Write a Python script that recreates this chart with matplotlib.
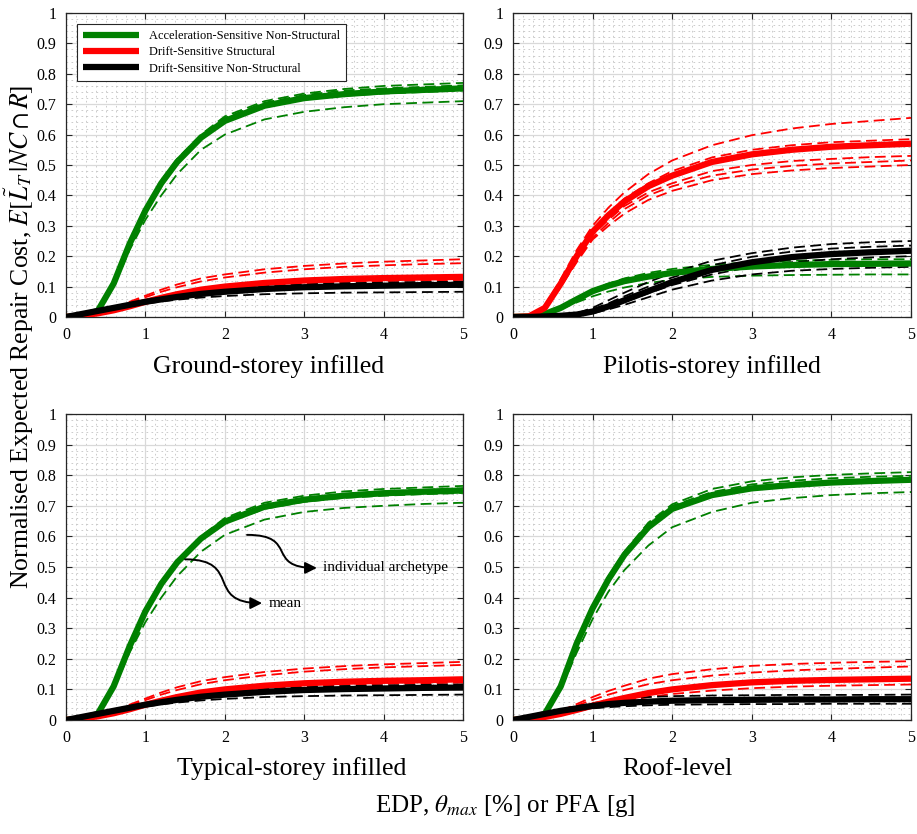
import numpy as np
import matplotlib
matplotlib.use("Agg")
import matplotlib.pyplot as plt
from matplotlib.path import Path
from matplotlib.patches import FancyArrowPatch
from matplotlib.ticker import MultipleLocator

plt.rcParams['font.family'] = ['Liberation Serif', 'DejaVu Serif']
plt.rcParams['mathtext.fontset'] = 'stix'

# EDP grid the curves were read at
x = [0, 0.2, 0.4, 0.6, 0.8, 1.0, 1.2, 1.4, 1.7, 2.0, 2.5, 3.0, 3.5, 4.0, 4.5, 5.0]

xticks = [0, 1, 2, 3, 4, 5]
yticks = [0, 0.1, 0.2, 0.3, 0.4, 0.5, 0.6, 0.7, 0.8, 0.9, 1]
yticklabels = ['0', '0.1', '0.2', '0.3', '0.4', '0.5', '0.6', '0.7', '0.8', '0.9', '1']

titles = ['Ground-storey infilled', 'Pilotis-storey infilled',
          'Typical-storey infilled', 'Roof-level']
labels = ['Acceleration-Sensitive Non-Structural', 'Drift-Sensitive Structural',
          'Drift-Sensitive Non-Structural']

# --- Ground-storey infilled ---
gs_acc_mean = [0, 0.005, 0.02, 0.11, 0.24, 0.35, 0.44, 0.51, 0.59, 0.645, 0.695, 0.72, 0.733, 0.742, 0.747, 0.752]
gs_acc_ind = [
    [0, 0.005, 0.02, 0.10, 0.22, 0.32, 0.40, 0.47, 0.55, 0.60, 0.65, 0.675, 0.69, 0.70, 0.705, 0.71],
    [0, 0.005, 0.02, 0.11, 0.245, 0.355, 0.45, 0.52, 0.60, 0.66, 0.71, 0.735, 0.75, 0.76, 0.765, 0.77],
    [0, 0.005, 0.02, 0.11, 0.24, 0.35, 0.445, 0.515, 0.595, 0.655, 0.705, 0.73, 0.745, 0.752, 0.757, 0.762],
    [0, 0.005, 0.02, 0.11, 0.24, 0.35, 0.44, 0.51, 0.59, 0.645, 0.69, 0.715, 0.728, 0.735, 0.74, 0.745],
]
gs_dss_mean = [0, 0.005, 0.012, 0.022, 0.035, 0.05, 0.063, 0.075, 0.09, 0.1, 0.112, 0.12, 0.125, 0.128, 0.13, 0.132]
gs_dss_ind = [
    [0, 0.005, 0.015, 0.03, 0.05, 0.07, 0.09, 0.107, 0.127, 0.14, 0.157, 0.168, 0.176, 0.182, 0.186, 0.19],
    [0, 0.005, 0.014, 0.028, 0.046, 0.065, 0.083, 0.098, 0.117, 0.13, 0.146, 0.157, 0.165, 0.17, 0.174, 0.177],
    [0, 0.004, 0.01, 0.02, 0.032, 0.045, 0.057, 0.068, 0.082, 0.092, 0.103, 0.11, 0.115, 0.118, 0.12, 0.122],
    [0, 0.005, 0.012, 0.022, 0.035, 0.05, 0.063, 0.076, 0.091, 0.102, 0.115, 0.123, 0.128, 0.132, 0.134, 0.136],
]
gs_dsn_mean = [0, 0.01, 0.02, 0.03, 0.04, 0.05, 0.058, 0.066, 0.076, 0.083, 0.092, 0.098, 0.101, 0.103, 0.105, 0.106]
gs_dsn_ind = [
    [0, 0.009, 0.018, 0.027, 0.036, 0.044, 0.051, 0.057, 0.064, 0.069, 0.075, 0.078, 0.08, 0.081, 0.082, 0.083],
    [0, 0.01, 0.021, 0.032, 0.043, 0.054, 0.063, 0.072, 0.083, 0.091, 0.101, 0.107, 0.111, 0.113, 0.115, 0.116],
    [0, 0.01, 0.02, 0.03, 0.04, 0.05, 0.058, 0.065, 0.074, 0.081, 0.089, 0.094, 0.097, 0.099, 0.1, 0.101],
]

# --- Pilotis-storey infilled ---
ps_acc_mean = [0, 0.002, 0.01, 0.03, 0.058, 0.085, 0.103, 0.118, 0.133, 0.145, 0.158, 0.166, 0.171, 0.174, 0.175, 0.176]
ps_acc_ind = [
    [0, 0.002, 0.009, 0.026, 0.048, 0.068, 0.084, 0.097, 0.112, 0.122, 0.132, 0.136, 0.138, 0.139, 0.14, 0.14],
    [0, 0.002, 0.01, 0.032, 0.062, 0.09, 0.11, 0.127, 0.145, 0.158, 0.172, 0.18, 0.185, 0.188, 0.19, 0.19],
    [0, 0.002, 0.01, 0.03, 0.058, 0.085, 0.104, 0.12, 0.136, 0.148, 0.161, 0.169, 0.173, 0.176, 0.178, 0.179],
]
ps_dss_mean = [0, 0.002, 0.03, 0.11, 0.2, 0.28, 0.335, 0.38, 0.43, 0.465, 0.51, 0.535, 0.55, 0.56, 0.565, 0.57]
ps_dss_ind = [
    [0, 0.002, 0.035, 0.125, 0.22, 0.30, 0.36, 0.41, 0.47, 0.515, 0.565, 0.598, 0.62, 0.635, 0.645, 0.655],
    [0, 0.002, 0.03, 0.11, 0.2, 0.285, 0.34, 0.39, 0.44, 0.48, 0.525, 0.55, 0.565, 0.575, 0.58, 0.585],
    [0, 0.002, 0.03, 0.105, 0.19, 0.27, 0.32, 0.365, 0.41, 0.44, 0.48, 0.50, 0.513, 0.52, 0.526, 0.53],
    [0, 0.002, 0.028, 0.10, 0.185, 0.26, 0.31, 0.355, 0.40, 0.43, 0.465, 0.485, 0.497, 0.505, 0.51, 0.515],
    [0, 0.002, 0.027, 0.10, 0.18, 0.255, 0.30, 0.34, 0.385, 0.415, 0.45, 0.47, 0.482, 0.49, 0.495, 0.50],
]
ps_dsn_mean = [0, 0, 0.002, 0.004, 0.008, 0.018, 0.035, 0.055, 0.085, 0.115, 0.155, 0.18, 0.197, 0.207, 0.213, 0.218]
ps_dsn_ind = [
    [0, 0, 0.002, 0.005, 0.012, 0.03, 0.055, 0.08, 0.115, 0.145, 0.185, 0.21, 0.228, 0.24, 0.246, 0.25],
    [0, 0, 0.002, 0.004, 0.01, 0.025, 0.045, 0.068, 0.1, 0.13, 0.17, 0.198, 0.215, 0.225, 0.231, 0.235],
    [0, 0, 0.002, 0.004, 0.008, 0.015, 0.03, 0.05, 0.078, 0.105, 0.14, 0.165, 0.18, 0.19, 0.196, 0.2],
    [0, 0, 0.002, 0.003, 0.006, 0.012, 0.025, 0.04, 0.065, 0.09, 0.12, 0.14, 0.152, 0.158, 0.162, 0.165],
]

# --- Typical-storey infilled ---
ts_acc_mean = [0, 0.005, 0.02, 0.11, 0.24, 0.355, 0.445, 0.515, 0.593, 0.648, 0.697, 0.72, 0.733, 0.741, 0.746, 0.75]
ts_acc_ind = [
    [0, 0.005, 0.02, 0.10, 0.22, 0.32, 0.40, 0.47, 0.55, 0.605, 0.655, 0.68, 0.693, 0.70, 0.706, 0.71],
    [0, 0.005, 0.02, 0.11, 0.245, 0.36, 0.45, 0.52, 0.60, 0.66, 0.71, 0.733, 0.747, 0.755, 0.76, 0.765],
    [0, 0.005, 0.02, 0.11, 0.24, 0.355, 0.447, 0.517, 0.596, 0.652, 0.7, 0.725, 0.739, 0.747, 0.752, 0.757],
    [0, 0.005, 0.02, 0.11, 0.24, 0.35, 0.44, 0.51, 0.59, 0.643, 0.69, 0.713, 0.726, 0.733, 0.738, 0.742],
]
ts_dss_mean = [0, 0.005, 0.012, 0.022, 0.035, 0.05, 0.063, 0.075, 0.09, 0.1, 0.112, 0.12, 0.125, 0.128, 0.13, 0.133]
ts_dss_ind = [
    [0, 0.005, 0.015, 0.03, 0.05, 0.07, 0.09, 0.107, 0.127, 0.14, 0.157, 0.168, 0.176, 0.182, 0.186, 0.19],
    [0, 0.005, 0.014, 0.028, 0.046, 0.065, 0.083, 0.098, 0.117, 0.13, 0.146, 0.158, 0.166, 0.172, 0.176, 0.18],
    [0, 0.004, 0.01, 0.02, 0.032, 0.045, 0.057, 0.068, 0.082, 0.092, 0.103, 0.11, 0.115, 0.118, 0.12, 0.122],
    [0, 0.005, 0.012, 0.022, 0.035, 0.05, 0.063, 0.076, 0.091, 0.102, 0.115, 0.123, 0.128, 0.132, 0.135, 0.137],
]
ts_dsn_mean = [0, 0.01, 0.02, 0.03, 0.04, 0.05, 0.058, 0.066, 0.076, 0.083, 0.092, 0.098, 0.101, 0.103, 0.105, 0.106]
ts_dsn_ind = [
    [0, 0.009, 0.018, 0.027, 0.036, 0.044, 0.051, 0.057, 0.064, 0.069, 0.075, 0.078, 0.08, 0.081, 0.082, 0.083],
    [0, 0.01, 0.021, 0.032, 0.043, 0.054, 0.063, 0.072, 0.083, 0.091, 0.101, 0.107, 0.111, 0.113, 0.115, 0.116],
    [0, 0.01, 0.02, 0.03, 0.04, 0.05, 0.058, 0.065, 0.074, 0.081, 0.089, 0.094, 0.097, 0.099, 0.1, 0.101],
]

# --- Roof-level ---
rf_acc_mean = [0, 0.005, 0.02, 0.11, 0.25, 0.365, 0.46, 0.54, 0.63, 0.69, 0.735, 0.757, 0.768, 0.776, 0.781, 0.785]
rf_acc_ind = [
    [0, 0.005, 0.02, 0.115, 0.255, 0.37, 0.47, 0.55, 0.645, 0.705, 0.755, 0.78, 0.793, 0.801, 0.806, 0.81],
    [0, 0.005, 0.02, 0.10, 0.22, 0.33, 0.42, 0.49, 0.57, 0.63, 0.68, 0.71, 0.725, 0.735, 0.741, 0.745],
    [0, 0.005, 0.02, 0.11, 0.25, 0.365, 0.465, 0.545, 0.64, 0.70, 0.745, 0.77, 0.782, 0.79, 0.795, 0.798],
]
rf_dss_mean = [0, 0.004, 0.01, 0.02, 0.033, 0.047, 0.06, 0.072, 0.088, 0.1, 0.114, 0.123, 0.128, 0.131, 0.133, 0.135]
rf_dss_ind = [
    [0, 0.005, 0.015, 0.03, 0.052, 0.075, 0.095, 0.112, 0.135, 0.15, 0.166, 0.177, 0.183, 0.187, 0.19, 0.192],
    [0, 0.005, 0.014, 0.028, 0.047, 0.066, 0.083, 0.098, 0.117, 0.13, 0.145, 0.155, 0.162, 0.167, 0.171, 0.175],
    [0, 0.004, 0.009, 0.017, 0.028, 0.04, 0.051, 0.062, 0.075, 0.085, 0.096, 0.104, 0.109, 0.112, 0.114, 0.116],
]
rf_dsn_mean = [0, 0.01, 0.02, 0.03, 0.038, 0.046, 0.052, 0.056, 0.06, 0.063, 0.065, 0.066, 0.067, 0.067, 0.068, 0.068]
rf_dsn_ind = [
    [0, 0.011, 0.022, 0.034, 0.045, 0.055, 0.063, 0.069, 0.075, 0.078, 0.08, 0.081, 0.082, 0.082, 0.082, 0.083],
    [0, 0.009, 0.017, 0.025, 0.032, 0.038, 0.042, 0.045, 0.048, 0.05, 0.051, 0.052, 0.052, 0.053, 0.053, 0.053],
    [0, 0.01, 0.02, 0.03, 0.039, 0.047, 0.054, 0.058, 0.063, 0.066, 0.068, 0.07, 0.071, 0.071, 0.072, 0.072],
]

panels = [
    (gs_acc_mean, gs_acc_ind, gs_dss_mean, gs_dss_ind, gs_dsn_mean, gs_dsn_ind),
    (ps_acc_mean, ps_acc_ind, ps_dss_mean, ps_dss_ind, ps_dsn_mean, ps_dsn_ind),
    (ts_acc_mean, ts_acc_ind, ts_dss_mean, ts_dss_ind, ts_dsn_mean, ts_dsn_ind),
    (rf_acc_mean, rf_acc_ind, rf_dss_mean, rf_dss_ind, rf_dsn_mean, rf_dsn_ind),
]
colors = ['#008000', '#ff0000', '#000000']

W, H = 917, 834
fig = plt.figure(figsize=(W / 100, H / 100), dpi=100)

# axes boxes in pixels: left, top, right, bottom
boxes = [(66, 13, 463, 317), (513, 13, 911, 317),
         (66, 414, 463, 720), (513, 414, 911, 720)]
title_pos = [(269, 367), (712, 367), (292, 769), (677, 769)]

axes = []
for i, (l, t, r, b) in enumerate(boxes):
    ax = fig.add_axes([l / W, 1 - b / H, (r - l) / W, (b - t) / H])
    axes.append(ax)
    acc_m, acc_i, dss_m, dss_i, dsn_m, dsn_i = panels[i]

    for c, ind in zip(colors, [acc_i, dss_i, dsn_i]):
        for y in ind:
            ax.plot(x, y, color=c, lw=1.3, ls=(0, (6, 3)), zorder=3)
    for c, m, lab in zip(colors, [acc_m, dss_m, dsn_m], labels):
        ax.plot(x, m, color=c, lw=4.5, solid_capstyle='butt', label=lab, zorder=4)

    ax.set_xlim(0, 5)
    ax.set_ylim(0, 1)
    ax.set_xticks(xticks)
    ax.set_xticklabels([str(v) for v in xticks])
    ax.set_yticks(yticks)
    ax.set_yticklabels(yticklabels)
    ax.xaxis.set_minor_locator(MultipleLocator(0.125))
    ax.yaxis.set_minor_locator(MultipleLocator(0.02))
    ax.grid(True, which='major', color='#d9d9d9', lw=0.9, ls='-', zorder=0)
    ax.grid(True, which='minor', color='#c4c4c4', lw=0.6, ls=(0, (2, 4)), zorder=0)
    ax.set_axisbelow(True)
    ax.tick_params(which='major', direction='in', length=4, width=0.8, color='#262626',
                   top=True, right=True, labelsize=11.5, pad=7)
    ax.tick_params(which='minor', length=0)
    for s in ax.spines.values():
        s.set_color('#262626')
        s.set_linewidth(0.9)

    fig.text(title_pos[i][0] / W, 1 - title_pos[i][1] / H, titles[i],
             ha='center', va='center', fontsize=18.5)

leg = axes[0].legend(loc='upper left', bbox_to_anchor=(0.028, 0.964), borderaxespad=0,
                     fontsize=8.9, handlelength=4.5, fancybox=False, framealpha=1,
                     edgecolor='#262626', borderpad=0.5, labelspacing=0.35)
leg.get_frame().set_linewidth(0.8)

# annotations on typical-storey panel
ax = axes[2]
for (x0, y0), (x1, y1), txt in [((2.28, 0.605), (3.16, 0.497), 'individual archetype'),
                                ((1.50, 0.525), (2.47, 0.382), 'mean')]:
    dx = (x1 - x0) * 0.75
    path = Path([(x0, y0), (x0 + dx, y0), (x1 - dx, y1), (x1, y1)],
                [Path.MOVETO, Path.CURVE4, Path.CURVE4, Path.CURVE4])
    arr = FancyArrowPatch(path=path, arrowstyle='-|>,head_length=7,head_width=3.5',
                          color='black', lw=1.4, transform=ax.transData, zorder=6)
    ax.add_patch(arr)
    ax.text(x1 + 0.08, y1, txt, ha='left', va='center', fontsize=11, zorder=6)

fig.text(19 / W, 1 - 337 / H,
         r'Normalised Expected Repair Cost, $E[\tilde{L}_T\,|NC \cap R]$',
         rotation=90, ha='center', va='center', fontsize=18.5)
fig.text(505 / W, 1 - 806 / H, r'EDP, $\theta_{max}$ [%] or PFA [g]',
         ha='center', va='center', fontsize=18)

fig.savefig('out.png', dpi=100)
